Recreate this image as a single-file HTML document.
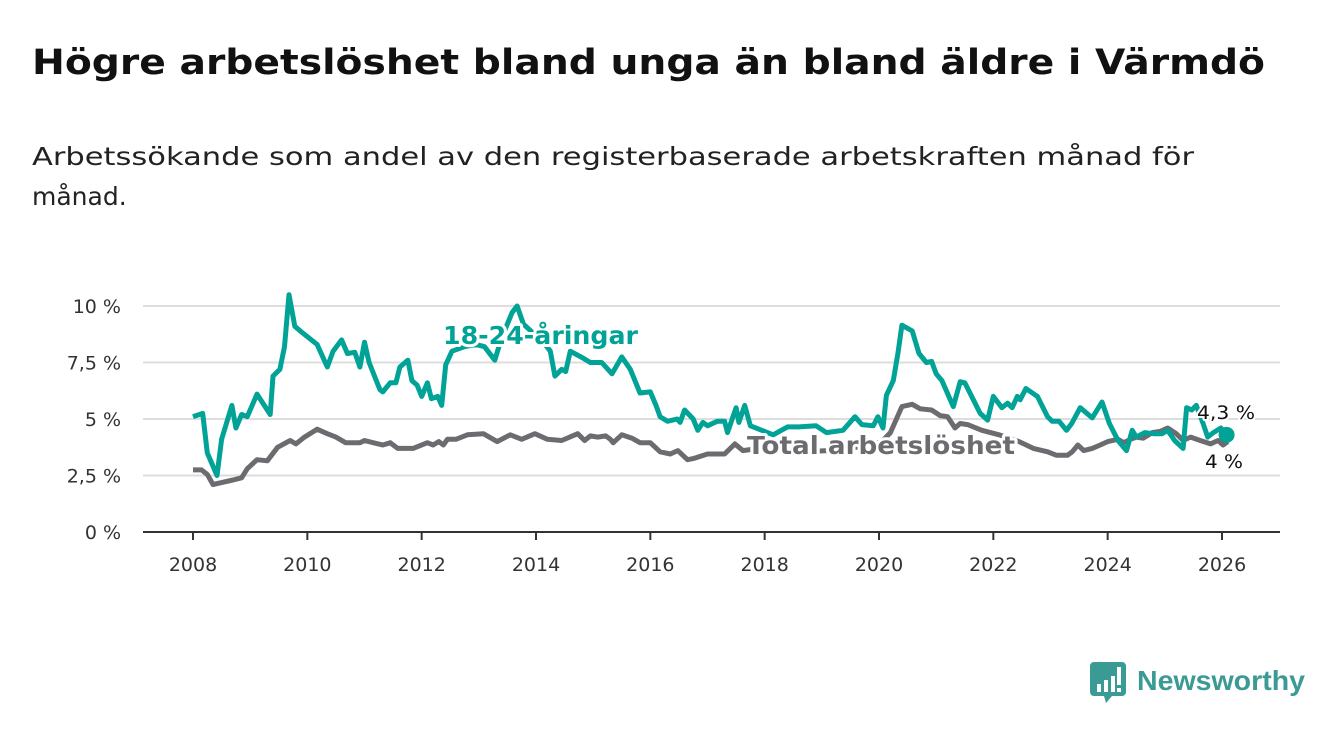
<!DOCTYPE html>
<html><head><meta charset="utf-8"><style>
html,body{margin:0;padding:0;background:#fff;}
svg{display:block;font-family:"DejaVu Sans","Liberation Sans",sans-serif;}
</style></head><body>
<svg id="chart" width="1340" height="734" viewBox="0 0 1340 734" xmlns="http://www.w3.org/2000/svg">
<text x="32" y="74" font-size="35" font-weight="bold" fill="#111" textLength="1233" lengthAdjust="spacingAndGlyphs">Högre arbetslöshet bland unga än bland äldre i Värmdö</text>
<text font-size="25" fill="#222">
<tspan x="32" y="165" textLength="1162" lengthAdjust="spacingAndGlyphs">Arbetssökande som andel av den registerbaserade arbetskraften månad för</tspan>
<tspan x="32" y="205">månad.</tspan></text>
<g id="grid"></g>
<g id="yticks"></g>
<g id="xticks"></g>
<g id="lines"></g>
<g id="labels"></g>
<g>
<path d="M1094 662 h28 a4 4 0 0 1 4 4 v26 a4 4 0 0 1 -4 4 h-10 l-6 7 l-2 -7 h-10 a4 4 0 0 1 -4 -4 v-26 a4 4 0 0 1 4 -4z" fill="#3a9a94"/>
<rect x="1097" y="684" width="4" height="8" fill="#fff"/><rect x="1104" y="680" width="4" height="12" fill="#fff"/><rect x="1111" y="676" width="4" height="16" fill="#fff"/><rect x="1117" y="667" width="4" height="18" fill="#fff"/><rect x="1117" y="688" width="4" height="4" fill="#fff"/>
<text x="1137" y="690" font-size="28" font-weight="bold" fill="#3a9a94" textLength="168" lengthAdjust="spacingAndGlyphs" font-family="Liberation Sans, sans-serif">Newsworthy</text>
</g>
</svg>
<script>
const yTicks=[0,2.5,5,7.5,10];
const yTickLabels=["0 %","2,5 %","5 %","7,5 %","10 %"];
const xTicks=[2008,2010,2012,2014,2016,2018,2020,2022,2024,2026];
const youthDates=[2008,2008.17,2008.25,2008.42,2008.5,2008.68,2008.75,2008.85,2008.95,2009.12,2009.35,2009.4,2009.52,2009.6,2009.68,2009.78,2009.92,2010.17,2010.35,2010.45,2010.6,2010.7,2010.83,2010.92,2011.0,2011.08,2011.27,2011.32,2011.45,2011.55,2011.62,2011.76,2011.83,2011.92,2012.0,2012.1,2012.17,2012.28,2012.35,2012.42,2012.53,2012.75,2012.95,2013.1,2013.28,2013.4,2013.58,2013.67,2013.78,2013.95,2014.1,2014.25,2014.33,2014.45,2014.52,2014.6,2014.82,2014.95,2015.15,2015.33,2015.5,2015.65,2015.82,2016.0,2016.1,2016.17,2016.3,2016.47,2016.52,2016.6,2016.75,2016.83,2016.92,2017.0,2017.17,2017.3,2017.35,2017.5,2017.55,2017.65,2017.75,2017.95,2018.15,2018.4,2018.6,2018.9,2019.08,2019.37,2019.58,2019.7,2019.9,2019.98,2020.07,2020.13,2020.25,2020.33,2020.4,2020.58,2020.7,2020.83,2020.92,2021.0,2021.1,2021.3,2021.42,2021.5,2021.77,2021.9,2022.0,2022.15,2022.25,2022.33,2022.42,2022.47,2022.57,2022.77,2022.95,2023.03,2023.15,2023.28,2023.37,2023.52,2023.73,2023.9,2024.03,2024.18,2024.33,2024.43,2024.5,2024.65,2024.8,2024.95,2025.05,2025.17,2025.32,2025.38,2025.47,2025.55,2025.67,2025.75,2025.85,2025.98,2026.08];
const youthValues=[5.1,5.25,3.5,2.5,4.1,5.6,4.6,5.2,5.1,6.1,5.2,6.9,7.2,8.2,10.5,9.1,8.8,8.3,7.3,8.0,8.5,7.9,7.95,7.3,8.4,7.5,6.3,6.2,6.6,6.6,7.3,7.6,6.7,6.5,6.0,6.6,5.9,6.0,5.6,7.4,8.0,8.2,8.3,8.2,7.6,8.6,9.7,10.0,9.2,8.8,8.5,8.0,6.9,7.2,7.1,8.0,7.7,7.5,7.5,7.0,7.75,7.2,6.15,6.2,5.6,5.1,4.9,5.0,4.85,5.4,5.0,4.5,4.85,4.7,4.9,4.9,4.4,5.5,4.85,5.6,4.7,4.5,4.3,4.65,4.65,4.7,4.4,4.5,5.1,4.75,4.7,5.1,4.6,6.05,6.7,7.9,9.15,8.9,7.9,7.5,7.55,7.0,6.7,5.55,6.65,6.6,5.25,4.95,6.0,5.5,5.7,5.5,6.0,5.85,6.35,6.0,5.1,4.9,4.9,4.5,4.8,5.5,5.05,5.75,4.8,4.05,3.6,4.5,4.2,4.4,4.35,4.35,4.5,4.05,3.7,5.5,5.4,5.6,4.8,4.2,4.4,4.6,4.3];
const totalDates=[2008,2008.15,2008.25,2008.35,2008.52,2008.7,2008.85,2008.95,2009.12,2009.3,2009.48,2009.7,2009.8,2009.95,2010.17,2010.35,2010.5,2010.67,2010.92,2011.0,2011.15,2011.32,2011.45,2011.58,2011.85,2012.1,2012.2,2012.3,2012.38,2012.45,2012.6,2012.8,2013.08,2013.32,2013.55,2013.75,2013.98,2014.2,2014.45,2014.73,2014.85,2014.95,2015.08,2015.22,2015.3,2015.35,2015.5,2015.68,2015.82,2016.0,2016.17,2016.35,2016.48,2016.65,2016.75,2017.0,2017.3,2017.48,2017.62,2017.9,2018.3,2018.7,2019.1,2019.5,2019.9,2020.05,2020.2,2020.4,2020.58,2020.72,2020.92,2021.07,2021.2,2021.33,2021.42,2021.55,2021.8,2022.1,2022.45,2022.7,2022.95,2023.1,2023.3,2023.38,2023.48,2023.58,2023.73,2023.87,2024.0,2024.18,2024.28,2024.4,2024.5,2024.62,2024.78,2024.92,2025.05,2025.2,2025.32,2025.45,2025.62,2025.8,2025.93,2026.02,2026.1];
const totalValues=[2.75,2.75,2.55,2.1,2.2,2.3,2.4,2.8,3.2,3.15,3.75,4.05,3.9,4.2,4.55,4.35,4.2,3.95,3.95,4.05,3.95,3.85,3.95,3.7,3.7,3.95,3.85,4.0,3.85,4.1,4.1,4.3,4.35,4.0,4.3,4.1,4.35,4.1,4.05,4.35,4.05,4.25,4.2,4.25,4.1,3.95,4.3,4.15,3.95,3.95,3.55,3.45,3.6,3.2,3.25,3.45,3.45,3.9,3.6,3.7,3.6,3.55,3.6,3.7,3.9,4.0,4.4,5.55,5.65,5.45,5.4,5.15,5.1,4.6,4.8,4.75,4.5,4.3,4.0,3.7,3.55,3.4,3.4,3.55,3.85,3.6,3.7,3.85,4.0,4.1,3.95,4.1,4.2,4.15,4.4,4.45,4.6,4.35,4.05,4.2,4.05,3.9,4.05,3.85,4.0];

const NS='http://www.w3.org/2000/svg';
const x0=193,x1=1222,yr0=2008,yr1=2026,yb=532,ypp=22.6;
function xScale(v){return x0+(v-yr0)*(x1-x0)/(yr1-yr0);}
function yScale(v){return yb-v*ypp;}
function mk(tag,attrs,parent){const e=document.createElementNS(NS,tag);for(const k in attrs)e.setAttribute(k,attrs[k]);parent.appendChild(e);return e;}
const grid=document.getElementById('grid'),yt=document.getElementById('yticks'),xt=document.getElementById('xticks'),lines=document.getElementById('lines'),labels=document.getElementById('labels');
yTicks.forEach((t,i)=>{
  const l=mk('line',{x1:143,x2:1280,y1:yScale(t),y2:yScale(t),stroke:t===0?'#333':'#ddd','stroke-width':2},grid);
  
  
  const tx=mk('text',{x:121,y:yScale(t)+7,'text-anchor':'end','font-size':19,fill:'#333'},yt);
  tx.textContent=yTickLabels[i];
  
  
});
xTicks.forEach(t=>{
  const l=mk('line',{x1:xScale(t),x2:xScale(t),y1:yb,y2:yb+8,stroke:'#333','stroke-width':2},xt);
  
  
  const tx=mk('text',{x:xScale(t),y:571,'text-anchor':'middle','font-size':19,fill:'#333'},xt);
  tx.textContent=t;
  
  
});
function path(d,v){return d.map((x,i)=>(i?'L':'M')+xScale(x).toFixed(1)+' '+yScale(v[i]).toFixed(1)).join(' ');}
const pt=mk('path',{d:path(totalDates,totalValues),fill:'none',stroke:'#6d6b70','stroke-width':5,'stroke-linejoin':'round'},lines);


const py=mk('path',{d:path(youthDates,youthValues),fill:'none',stroke:'#00a396','stroke-width':5,'stroke-linejoin':'round'},lines);


const n=youthDates.length-1;
const dot=mk('circle',{cx:xScale(youthDates[n]),cy:yScale(youthValues[n]),r:8,fill:'#00a396'},lines);


function lab(txt,x,y,size,col,bold,name,len){
  const t=mk('text',{x:x,y:y,'font-size':size,fill:col,'font-weight':bold?'bold':'normal',stroke:'#fff','stroke-width':bold?6:4,'paint-order':'stroke','stroke-linejoin':'round'},labels);
  if(len){t.setAttribute('textLength',len);t.setAttribute('lengthAdjust','spacingAndGlyphs');}
  t.textContent=txt;
  
  
}
lab('18-24-åringar',443,344,25,'#00a396',true,'youth-label',195);
lab('Total arbetslöshet',747,454,25,'#6d6b70',true,'total-label',268);
lab('4,3 %',1197,419,19,'#111',false,'youth-end-value',58);
lab('4 %',1205,468,19,'#111',false,'total-end-value',38);
</script>
</body></html>
